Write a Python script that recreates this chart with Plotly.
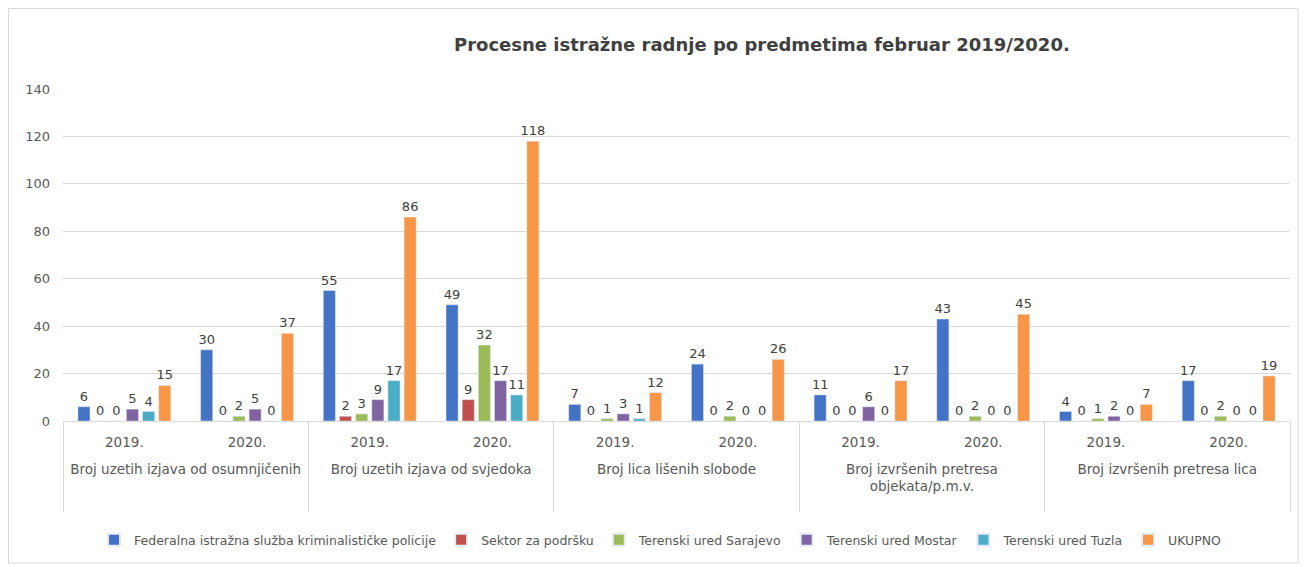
import plotly.graph_objects as go

categories = [
    "Broj uzetih izjava od osumnjičenih",
    "Broj uzetih izjava od svjedoka",
    "Broj lica lišenih slobode",
    "Broj izvršenih pretresa<br>objekata/p.m.v.",
    "Broj izvršenih pretresa lica",
]
years = ["2019.", "2020."]

series_names = [
    "Federalna istražna služba kriminalističke policije",
    "Sektor za podršku",
    "Terenski ured Sarajevo",
    "Terenski ured Mostar",
    "Terenski ured Tuzla",
    "UKUPNO",
]
# values ordered: cat1-2019, cat1-2020, cat2-2019, ...
federalna = [6, 30, 55, 49, 7, 24, 11, 43, 4, 17]
sektor = [0, 0, 2, 9, 0, 0, 0, 0, 0, 0]
sarajevo = [0, 2, 3, 32, 1, 2, 0, 2, 1, 2]
mostar = [5, 5, 9, 17, 3, 0, 6, 0, 2, 0]
tuzla = [4, 0, 17, 11, 1, 0, 0, 0, 0, 0]
ukupno = [15, 37, 86, 118, 12, 26, 17, 45, 7, 19]

colors = ["#4472C4", "#C0504D", "#9BBB59", "#8064A2", "#4BACC6", "#F79646"]


def outer_label(c):
    # pad with blank lines so the label block matches the reference depth
    extra = "" if "<br>" in c else "<br>\u00a0"
    return "\u00a0<br>" + c + extra + "<br>\u00a0"


outer = [outer_label(c) for c in categories for _ in years]
inner = [y for _ in categories for y in years]

FONT = "DejaVu Sans"

fig = go.Figure()
for name, vals, col in zip(series_names,
                           [federalna, sektor, sarajevo, mostar, tuzla, ukupno],
                           colors):
    fig.add_trace(go.Bar(
        x=[outer, inner], y=vals, name=name, marker_color=col,
        text=[str(v) for v in vals], textposition="outside",
        constraintext="none",
        textfont=dict(size=13, color="#404040", family=FONT),
        cliponaxis=False,
    ))

# figure coordinates (page has an 8px body margin)
W, H = 1291, 556
plot_left, plot_right, plot_top, plot_bottom = 55, 1282, 81, 413
pw = plot_right - plot_left
ph = plot_bottom - plot_top

fig.update_layout(
    width=W, height=H,
    margin=dict(l=plot_left, r=W - plot_right, t=plot_top, b=H - plot_bottom),
    paper_bgcolor="white", plot_bgcolor="white",
    barmode="group", bargap=0.21, bargroupgap=0.25,
    font=dict(family=FONT, color="#595959", size=12),
    showlegend=True,
    legend=dict(orientation="h", x=0.487, xanchor="center", y=(plot_bottom - 532) / ph,
                yanchor="middle", font=dict(size=12.5, color="#595959", family=FONT),
                itemsizing="constant"),
    xaxis=dict(type="multicategory", showdividers=True, dividercolor="#D9D9D9",
               dividerwidth=1, tickfont=dict(size=13.5, color="#595959", family=FONT),
               showline=True, linecolor="#D9D9D9", ticks="", ticklabelstandoff=9),
    yaxis=dict(range=[0, 140], dtick=20, showgrid=True, gridcolor="#D9D9D9",
               zeroline=False, tickfont=dict(size=13, color="#595959", family=FONT),
               ticklabelstandoff=12),
    annotations=[dict(text="<b>Procesne istražne radnje po predmetima februar 2019/2020.</b>",
                      xref="paper", yref="paper", x=(754 - plot_left) / pw,
                      y=(plot_bottom - 37) / ph, xanchor="center", yanchor="middle",
                      showarrow=False, font=dict(size=18, color="#404040", family=FONT))],
    shapes=[dict(type="rect", xref="paper", yref="paper",
                 x0=(0.5 - plot_left) / pw, x1=(1290 - plot_left) / pw,
                 y0=(plot_bottom - 555) / ph, y1=(plot_bottom - 0.5) / ph,
                 line=dict(color="#D9D9D9", width=1), layer="below")],
)

fig.write_html("out.html")
